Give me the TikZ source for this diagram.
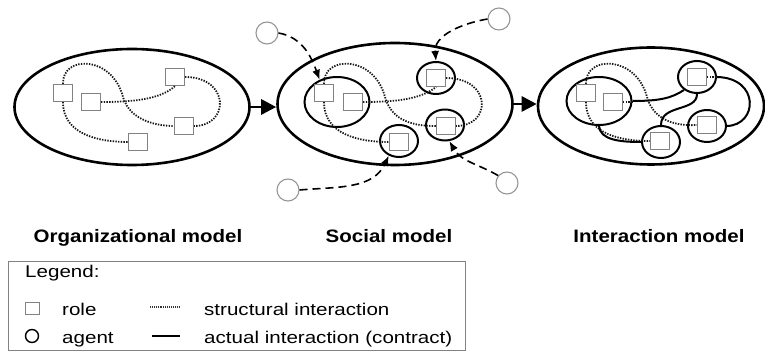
\documentclass[tikz,border=0pt]{standalone}
\usepackage{fontspec}
\setmainfont{Liberation Sans}
\newfontfamily\titlefont[FakeStretch=1.14]{Liberation Sans}
\newfontfamily\legfont[FakeStretch=1.21]{Liberation Sans}
\usetikzlibrary{shapes.geometric,arrows.meta}
\definecolor{rolegray}{RGB}{130,130,130}
\definecolor{agentgray}{RGB}{150,150,150}
\tikzset{
  model/.style={ellipse,draw=black,line width=2.6pt,inner sep=0pt,minimum width=#1},
  agentell/.style={ellipse,draw=black,line width=2pt,inner sep=0pt},
  rolebox/.style={rectangle,draw=rolegray,line width=1.1pt,minimum width=19pt,minimum height=17pt,inner sep=0pt,fill=white},
  agentc/.style={circle,draw=agentgray,line width=1.1pt,minimum size=22pt,inner sep=0pt},
  structural/.style={line width=1.8pt,dash pattern=on 1.4pt off 1.3pt,black!90},
  contract/.style={line width=2pt,black},
  joins/.style={dash pattern=on 8pt off 5pt,line width=1.6pt,-{Latex[length=10pt,width=8pt]}},
  flow/.style={line width=2.8pt,-{Triangle[length=15pt,width=15pt]}},
  title/.style={font=\titlefont\fontsize{18}{20}\selectfont\bfseries,anchor=base},
  leg/.style={font=\legfont\fontsize{17}{19}\selectfont,anchor=base west,inner sep=0pt}
}
\begin{document}
\begin{tikzpicture}[x=1pt,y=1pt]
\useasboundingbox (0,0) rectangle (765,-352);

% ---------- big model ellipses
\node[model=235pt,minimum height=116pt] (M1) at (132,-107) {};
\node[model=235pt,minimum height=122pt] (M2) at (395,-104) {};
\node[model=226pt,minimum height=117pt] (M3) at (651,-106) {};
\draw[flow] (M1.east) -- (M2.west |- M1.east);
\draw[flow] (M2.east) -- (M3.west |- M2.east);

% ---------- organizational model
\node[rolebox] (A1) at (63,-93) {};
\node[rolebox] (B1) at (91,-102) {};
\node[rolebox] (C1) at (175,-77) {};
\node[rolebox] (D1) at (184,-126) {};
\node[rolebox] (E1) at (138,-142) {};
\draw[structural] (A1.north) .. controls (62,-55) and (112,-55) .. (123,-97)
   .. controls (130,-122) and (160,-126) .. (D1.west);
\draw[structural] (B1.east) .. controls (130,-102) and (160,-100) .. (C1.south);
\draw[structural] (C1.east) .. controls (230,-77) and (230,-126) .. (D1.east);
\draw[structural] (A1.south) .. controls (63,-135) and (100,-142) .. (E1.west);

% ---------- social model
\node[agentell,minimum width=65pt,minimum height=50pt] (G2) at (337,-102) {};
\node[agentell,minimum width=38pt,minimum height=32pt] (K2) at (436,-78) {};
\node[agentell,minimum width=38pt,minimum height=31pt] (L2) at (445,-125) {};
\node[agentell,minimum width=38pt,minimum height=32pt] (N2) at (399,-141) {};
\node[rolebox] (A2) at (324,-93) {};
\node[rolebox] (B2) at (353,-102) {};
\node[rolebox] (C2) at (436,-78) {};
\node[rolebox] (D2) at (446,-126) {};
\node[rolebox] (E2) at (399,-142) {};
\draw[structural] (A2.north) .. controls (323,-55) and (374,-55) .. (385,-97)
   .. controls (392,-122) and (415,-126) .. (D2.west);
\draw[structural] (B2.east) .. controls (392,-102) and (420,-100) .. (C2.south);
\draw[structural] (C2.east) .. controls (492,-78) and (492,-126) .. (D2.east);
\draw[structural] (A2.south) .. controls (324,-135) and (360,-142) .. (E2.west);

\node[agentc] (ag1) at (267,-33) {};
\node[agentc] (ag2) at (499,-19) {};
\node[agentc] (ag3) at (288,-190) {};
\node[agentc] (ag4) at (507,-183) {};
\draw[joins] (ag1.east) to[out=-10,in=110] (G2.128);
\draw[joins] (ag2.west) to[out=190,in=95] (K2.north);
\draw[joins] (ag3.east) to[out=5,in=-115] (N2.235);
\draw[joins] (ag4.140) to[out=150,in=-60] (L2.-75);

% ---------- interaction model
\node[agentell,minimum width=65pt,minimum height=48pt] (G3) at (599,-101) {};
\node[agentell,minimum width=38pt,minimum height=32pt] (K3) at (697,-77) {};
\node[agentell,minimum width=38pt,minimum height=32pt] (L3) at (707,-126) {};
\node[agentell,minimum width=38pt,minimum height=32pt] (N3) at (661,-142) {};
\node[rolebox] (A3) at (586,-93) {};
\node[rolebox] (B3) at (613,-102) {};
\node[rolebox] (C3) at (697,-77) {};
\node[rolebox] (D3) at (707,-125) {};
\node[rolebox] (E3) at (660,-141) {};
\draw[structural] (A3.north) .. controls (585,-55) and (636,-55) .. (647,-97)
   .. controls (654,-122) and (678,-126) .. (D3.west);
\draw[structural] (A3.south) .. controls (586,-135) and (622,-141) .. (E3.west);
\draw[structural] (B3.east) -- (G3.east |- B3.east);
\draw[structural] (C3.east) -- (K3.east |- C3.east);
\draw[contract] (G3.east) .. controls (660,-101) and (672,-98) .. (K3.225);
\draw[contract] (K3.south) .. controls (697,-112) and (661,-104) .. (N3.north);
\draw[contract] (K3.east) .. controls (760,-78) and (758,-125) .. (L3.east);
\draw[contract] (G3.south) .. controls (600,-140) and (620,-142) .. (N3.west);

% ---------- titles
\node[title] (t1) at (138,-243) {Organizational model};
\node[title] (t2) at (389,-243) {Social model};
\node[title] (t3) at (659,-243) {Interaction model};

% ---------- legend
\draw[draw=rolegray,line width=1pt] (8,-262) rectangle (465,-350);
\node[leg] (lg) at (25,-278) {Legend:};
\node[rectangle,draw=rolegray,line width=1pt,minimum width=14pt,minimum height=12pt,inner sep=0pt] (lsq) at (32,-309) {};
\node[leg] (lrole) at (62,-316) {role};
\node[circle,draw=black,line width=1.4pt,minimum size=13pt,inner sep=0pt] (lci) at (32,-336) {};
\node[leg] (lagent) at (62,-343) {agent};
\coordinate (d1) at (150,-307);
\coordinate (d2) at (180,-307);
\draw[line width=1.2pt,dash pattern=on 0.9pt off 1pt,black!80] (d1) -- (d2);
\coordinate (s1) at (152,-336);
\coordinate (s2) at (180,-336);
\draw[line width=1.5pt] (s1) -- (s2);
\node[leg] (lstruct) at (204,-316) {structural interaction};
\node[leg] (lact) at (204,-343) {actual interaction (contract)};
\end{tikzpicture}
\end{document}
